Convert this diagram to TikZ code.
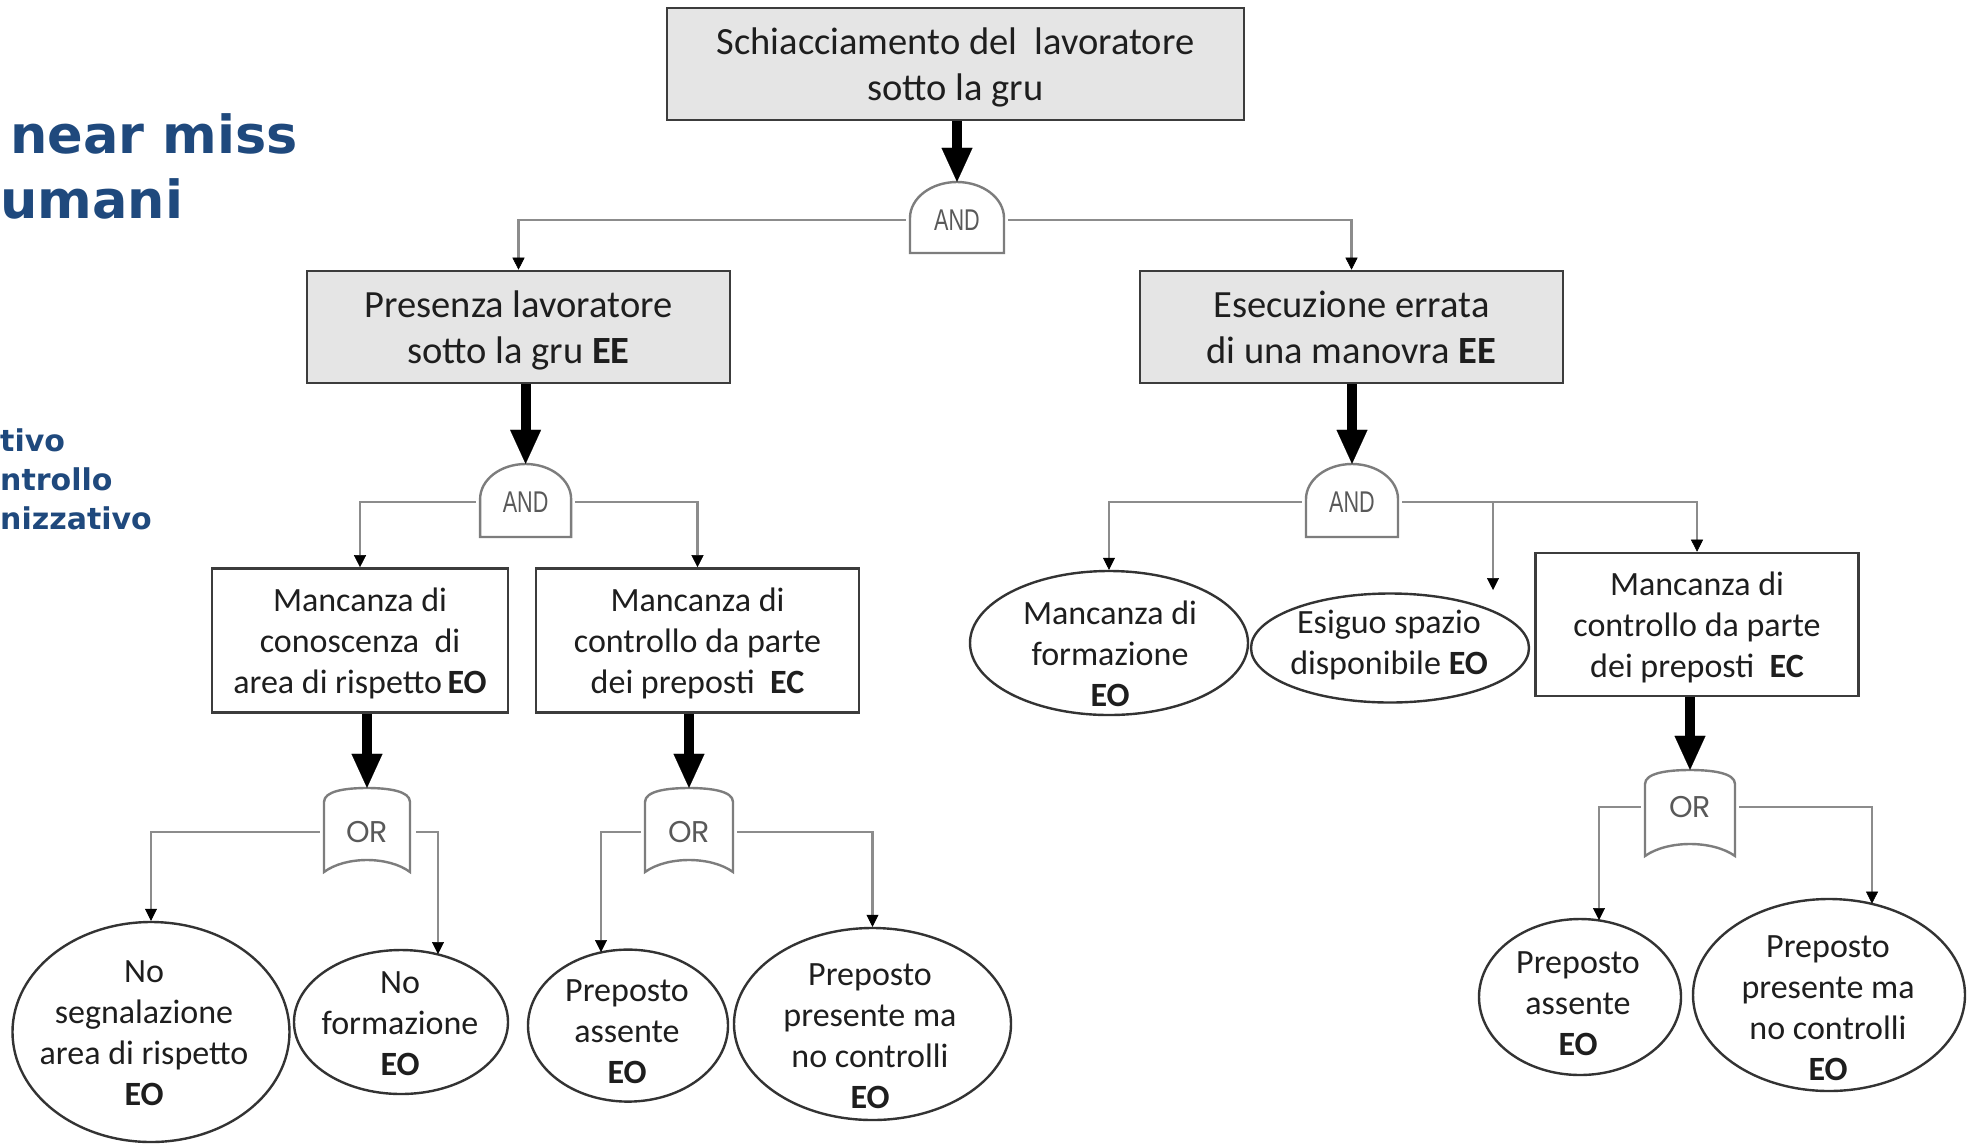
\documentclass[tikz,border=0pt]{standalone}
\usepackage{fontspec}
\setmainfont{Carlito}
\newfontfamily\gatefont[FakeStretch=0.72]{Liberation Sans}
\newfontfamily\orfont{Poppins}
\newfontfamily\bluefont{DejaVu Sans}
\usetikzlibrary{arrows.meta,shapes.geometric,calc}
\definecolor{bluet}{RGB}{31,73,125}
\definecolor{connc}{RGB}{140,140,140}
\definecolor{boxc}{RGB}{60,60,60}
\definecolor{txtc}{RGB}{30,30,30}
\definecolor{gatec}{RGB}{125,125,125}
\newcommand\andshape[5]{%
\draw[gateline] ({#1-#4},#3) -- ({#1-#4},{#2+#5}) .. controls ({#1-#4},{#2+0.448*#5}) and ({#1-0.552*#4},#2) .. (#1,#2) .. controls ({#1+0.552*#4},#2) and ({#1+#4},{#2+0.448*#5}) .. ({#1+#4},{#2+#5}) -- ({#1+#4},#3) -- cycle;}
\newcommand\orshape[4]{%
\draw[gateline] ({#1-#4},#3) -- ({#1-#4},{#2+14}) .. controls ({#1-#4},{#2+3}) and ({#1-0.5*#4},#2) .. (#1,#2) .. controls ({#1+0.5*#4},#2) and ({#1+#4},{#2+3}) .. ({#1+#4},{#2+14}) -- ({#1+#4},#3) .. controls ({#1+0.5*#4},{#3-16}) and ({#1-0.5*#4},{#3-16}) .. ({#1-#4},#3) -- cycle;}
\newcommand\boxtext[1]{\raisebox{-4pt}[\height][\depth]{\begin{tabular}{@{}c@{}}#1\end{tabular}}}
\begin{document}
\begin{tikzpicture}[x=1pt,y=-1pt,
  box/.style={draw=boxc,line width=2.6pt,rectangle,inner sep=0pt,align=center,text=txtc,font=\fontsize{34}{41}\selectfont},
  bigbox/.style={box,fill=gray!20,font=\fontsize{38.5}{46}\selectfont},
  evt/.style={draw=black!80,line width=2.4pt,ellipse,inner sep=0pt},
  etxt/.style={align=center,text=txtc,font=\fontsize{34}{41}\selectfont,inner sep=0pt},
  gatelbl/.style={rectangle,inner sep=0pt,text=black!65},
  andlbl/.style={gatelbl,font={\gatefont\fontsize{30}{30}\selectfont}},
  orlbl/.style={gatelbl,font={\orfont\fontsize{30}{30}\selectfont}},
  gateline/.style={draw=gatec,line width=2.4pt},
  conn/.style={draw=connc,line width=2.2pt,-{Triangle[width=12pt,length=12pt,color=black,line width=0.5pt]}},
  bigarr/.style={draw=black,line width=10pt,-{Triangle[width=31pt,length=34pt,line width=0.1pt]}},
  bluetxt/.style={text=bluet,inner sep=0pt,anchor=base west,font={\bluefont\bfseries\fontsize{52.5}{60}\selectfont}},
  bluesm/.style={bluetxt,font={\bluefont\bfseries\fontsize{30}{34}\selectfont}}
]
\fill[white] (0,0) rectangle (1967,1144);
\useasboundingbox (0,0) rectangle (1967,1144);

% left title fragments
\node[bluetxt] (t1) at (10,153) {near miss};
\node[bluetxt] (t2) at (0,218) {umani};
\node[bluesm] (t3) at (0,451) {tivo};
\node[bluesm] (t4) at (0,490) {ntrollo};
\node[bluesm] (t5) at (0,529) {nizzativo};

% boxes
\node[bigbox,minimum width=577pt,minimum height=112pt] (T) at (955.5,64) {\boxtext{Schiacciamento del\ \ lavoratore\\sotto la gru}};
\node[bigbox,minimum width=423pt,minimum height=112pt] (L) at (518.5,327) {\boxtext{Presenza lavoratore\\sotto la gru \textbf{EE}}};
\node[bigbox,minimum width=423pt,minimum height=112pt] (R) at (1351.5,327) {\boxtext{Esecuzione errata\\di una manovra \textbf{EE}}};
\node[box,minimum width=296pt,minimum height=144pt] (A) at (360,640.5) {\boxtext{Mancanza di\\conoscenza\ \ di\\area di rispetto\,\textbf{EO}}};
\node[box,minimum width=323pt,minimum height=144pt] (B) at (697.5,640.5) {\boxtext{Mancanza di\\controllo da parte\\dei preposti\ \ \textbf{EC}}};
\node[box,minimum width=323pt,minimum height=143pt] (C) at (1697,624.5) {\boxtext{Mancanza di\\controllo da parte\\dei preposti\ \ \textbf{EC}}};

% gates
\andshape{957}{182}{253}{47}{36}
\node[andlbl,minimum width=94pt,minimum height=76pt] (g1) at (957,220) {AND};
\andshape{525.6}{464}{537}{45.5}{35}
\node[andlbl,minimum width=91pt,minimum height=76pt] (g2) at (525.6,502) {AND};
\andshape{1352}{464}{537}{46}{35}
\node[andlbl,minimum width=92pt,minimum height=76pt] (g3) at (1352,502) {AND};
\orshape{367}{788}{872}{43}
\node[orlbl,minimum width=86pt,minimum height=88pt] (o1) at (367,832) {OR};
\orshape{689}{788}{872}{44}
\node[orlbl,minimum width=88pt,minimum height=88pt] (o2) at (689,832) {OR};
\orshape{1690}{770}{856}{45}
\node[orlbl,minimum width=90pt,minimum height=74pt] (o3) at (1690,807) {OR};

% ellipses
\node[evt,minimum width=277pt,minimum height=220pt] (E1) at (151,1032) {};
\node[etxt] (E1t) at (144,1033) {No\\segnalazione\\area di rispetto\\\textbf{EO}};
\node[evt,minimum width=214pt,minimum height=144pt] (E2) at (401,1022) {};
\node[etxt] (E2t) at (400,1024) {No\\formazione\\\textbf{EO}};
\node[evt,minimum width=200pt,minimum height=152pt] (E3) at (628,1025.6) {};
\node[etxt] (E3t) at (627,1032) {Preposto\\assente\\\textbf{EO}};
\node[evt,minimum width=277pt,minimum height=192pt] (E4) at (872.5,1024) {};
\node[etxt] (E4t) at (870,1036) {Preposto\\presente ma\\no controlli\\\textbf{EO}};
\node[evt,minimum width=278pt,minimum height=144pt] (E5) at (1109,643) {};
\node[etxt] (E5t) at (1110,654) {Mancanza di\\formazione\\\textbf{EO}};
\node[evt,minimum width=278pt,minimum height=109pt] (E6) at (1390,648) {};
\node[etxt] (E6t) at (1389,645) {Esiguo spazio\\disponibile \textbf{EO}};
\node[evt,minimum width=202pt,minimum height=156pt] (E7) at (1580,997) {};
\node[etxt] (E7t) at (1578,1004) {Preposto\\assente\\\textbf{EO}};
\node[evt,minimum width=272pt,minimum height=192pt] (E8) at (1829,995) {};
\node[etxt] (E8t) at (1828,1008) {Preposto\\presente ma\\no controlli\\\textbf{EO}};

% thick arrows
\draw[bigarr] (g1.north |- T.south) -- (g1.north);
\draw[bigarr] (g2.north |- L.south) -- (g2.north);
\draw[bigarr] (g3.north |- R.south) -- (g3.north);
\draw[bigarr] (o1.north |- A.south) -- (o1.north);
\draw[bigarr] (o2.north |- B.south) -- (o2.north);
\draw[bigarr] (o3.north |- C.south) -- (o3.north);

% connectors
\draw[conn] ([xshift=-4pt]g1.west) -| (L.north);
\draw[conn] ([xshift=4pt]g1.east) -| (R.north);
\draw[conn] ([xshift=-4pt]g2.west) -| (A.north);
\draw[conn] ([xshift=4pt]g2.east) -| (B.north);
\draw[conn] ([xshift=-4pt]o1.west) -| (E1.north);
\coordinate (e2t) at (438,954);
\draw[conn] ([xshift=6pt]o1.east) -| (e2t);
\coordinate (e3t) at (601,952);
\draw[conn] ([xshift=-4pt]o2.west) -| (e3t);
\draw[conn] ([xshift=4pt]o2.east) -| (E4.north);
\draw[conn] ([xshift=-4pt]g3.west) -| (E5.north);
\draw[conn] ([xshift=4pt]g3.east) -| (C.north);
\coordinate (j3) at (1493,502);
\coordinate (e6t) at (1493,590);
\draw[conn] (j3) -- (e6t);
\coordinate (e7t) at (1599,920);
\draw[conn] ([xshift=-4pt]o3.west) -| (e7t);
\coordinate (e8t) at (1872,903.6);
\draw[conn] ([xshift=4pt]o3.east) -| (e8t);
\end{tikzpicture}
\end{document}
